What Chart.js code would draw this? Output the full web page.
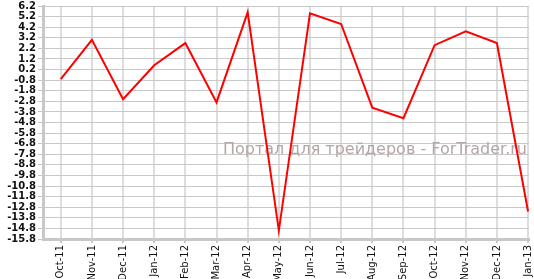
<!DOCTYPE html>
<html>
<head>
<meta charset="utf-8">
<script src="https://cdn.jsdelivr.net/npm/chart.js@4/dist/chart.umd.min.js"></script>
<style>
  body { margin: 0; background: #fff; }
  canvas { display: block; }
</style>
</head>
<body>
<canvas id="myChart" width="534" height="279"></canvas>
<script>
// months
var months = ['Oct-11', 'Nov-11', 'Dec-11', 'Jan-12', 'Feb-12', 'Mar-12', 'Apr-12', 'May-12',
  'Jun-12', 'Jul-12', 'Aug-12', 'Sep-12', 'Oct-12', 'Nov-12', 'Dec-12', 'Jan-13']
// values
var values = [-0.7, 3.0, -2.6, 0.6, 2.7, -2.9, 5.6, -15.0,
  5.5, 4.5, -3.4, -4.4, 2.5, 3.8, 2.7, -13.2]
// y tick labels
var yTicks = [6.2, 5.2, 4.2, 3.2, 2.2, 1.2, 0.2, -0.8, -1.8, -2.8, -3.8, -4.8, -5.8, -6.8,
  -7.8, -8.8, -9.8, -10.8, -11.8, -12.8, -13.8, -14.8, -15.8]

var watermark = 'Портал для трейдеров - ForTrader.ru'

var points = values.map(function (v, i) { return { x: i, y: v } })

// watermark under the line
var markPlugin = {
  id: 'mark',
  beforeDatasetsDraw: function (chart) {
    var ctx = chart.ctx
    ctx.save()
    ctx.font = '16px "DejaVu Sans"'
    ctx.fillStyle = '#b5a6a6'
    ctx.textAlign = 'right'
    ctx.textBaseline = 'middle'
    ctx.fillText(watermark, 527, 150)
    ctx.restore()
  }
}

var myChart = document.getElementById('myChart').getContext('2d')
var lineChart = new Chart(myChart, {
  type: 'line',
  data: {
    datasets: [{
      data: points,
      borderColor: '#ff0000',
      borderWidth: 2,
      pointRadius: 0,
      tension: 0,
      fill: false
    }]
  },
  options: {
    responsive: false,
    animation: false,
    layout: { padding: { top: 6, right: 5, left: 0, bottom: 0 } },
    plugins: { legend: { display: false }, tooltip: { enabled: false } },
    scales: {
      x: {
        type: 'linear',
        min: -0.57,
        max: 15.03,
        afterBuildTicks: function (axis) {
          axis.ticks = months.map(function (m, i) { return { value: i } })
        },
        afterFit: function (axis) {
          axis.height = 40
          axis.paddingLeft = 0
          axis.paddingRight = 0
        },
        ticks: {
          autoSkip: false,
          maxRotation: 90,
          minRotation: 90,
          color: '#111',
          font: { family: 'DejaVu Sans', size: 10 },
          padding: 2,
          callback: function (v) { return months[v] }
        },
        grid: { color: '#dddddd', lineWidth: 2, tickLength: 4, tickColor: '#c8c8c8' },
        border: { color: '#c8c8c8', width: 3 }
      },
      y: {
        min: -15.8,
        max: 6.2,
        afterBuildTicks: function (axis) {
          axis.ticks = yTicks.map(function (t) { return { value: t } })
        },
        afterFit: function (axis) {
          axis.width = 43
          axis.paddingTop = 0
          axis.paddingBottom = 0
        },
        ticks: {
          autoSkip: false,
          color: '#111',
          font: { family: 'DejaVu Sans', size: 10, weight: 'bold' },
          padding: 2,
          callback: function (v) { return v.toFixed(1) }
        },
        grid: { color: '#c8c8c8', lineWidth: 1, tickLength: 5, tickColor: '#c8c8c8' },
        border: { color: '#c8c8c8', width: 3 }
      }
    }
  },
  plugins: [markPlugin]
})
</script>
</body>
</html>
